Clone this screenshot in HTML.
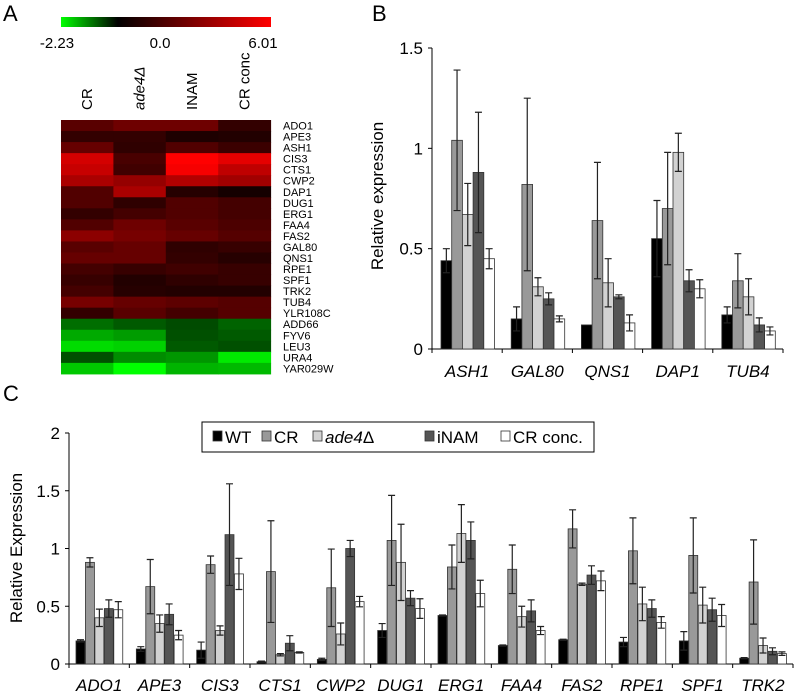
<!DOCTYPE html>
<html><head><meta charset="utf-8">
<style>
html,body{margin:0;padding:0;background:#fff;}
svg{display:block;font-family:"Liberation Sans",Arial,sans-serif;}
svg text{font-family:"Liberation Sans",Arial,sans-serif;}
</style></head>
<body>
<svg id="fig" width="794" height="694" viewBox="0 0 794 694" xmlns="http://www.w3.org/2000/svg" font-family="Liberation Sans, Arial, sans-serif">
<defs>
<linearGradient id="cbar" x1="0" x2="1" y1="0" y2="0">
<stop offset="0" stop-color="#00ff00"/>
<stop offset="0.2707" stop-color="#000000"/>
<stop offset="1" stop-color="#ff0000"/>
</linearGradient>
</defs>
<text x="3" y="21" font-size="22">A</text>
<rect x="61" y="17" width="210" height="10" fill="url(#cbar)"/>
<text x="57" y="48" font-size="15" text-anchor="middle">-2.23</text>
<text x="160" y="48" font-size="15" text-anchor="middle">0.0</text>
<text x="263" y="48" font-size="15" text-anchor="middle">6.01</text>
<g id="heat"></g>
<text x="372" y="21" font-size="22">B</text>
<g id="chartB"></g>
<text x="3" y="401" font-size="22">C</text>
<g id="chartC"></g>
</svg>
<script>
const NS="http://www.w3.org/2000/svg";
function mk(parent,tag,attrs,txt){const e=document.createElementNS(NS,tag);for(const k in attrs)e.setAttribute(k,attrs[k]);if(txt!==undefined)e.textContent=txt;parent.appendChild(e);return e;}

// ---------- Panel A data ----------
const heatCols=["CR","ade4Δ","INAM","CR conc"];
const heatRows=["ADO1","APE3","ASH1","CIS3","CTS1","CWP2","DAP1","DUG1","ERG1","FAA4","FAS2","GAL80","QNS1","RPE1","SPF1","TRK2","TUB4","YLR108C","ADD66","FYV6","LEU3","URA4","YAR029W"];
const heatVals=[
[2.1,2.6,2.6,1.2],[1.2,1.2,0.7,0.8],[2.4,1.1,1.9,1.4],[5.0,1.7,6.0,5.4],[4.7,1.5,5.8,4.5],
[4.0,3.5,4.2,3.8],[1.9,4.0,0.9,0.5],[1.9,1.1,1.9,1.6],[1.2,1.6,1.9,1.6],[1.9,2.6,2.1,1.8],
[3.3,2.8,2.4,2.0],[2.1,2.4,1.1,1.3],[2.4,2.4,1.2,0.9],[1.6,1.3,1.5,1.3],[1.3,0.8,1.1,1.3],
[1.6,0.9,0.8,0.8],[2.8,2.4,2.2,2.0],[1.2,2.1,1.6,2.0],[-0.96,-0.79,-0.66,-0.87],
[-1.49,-1.36,-0.70,-0.79],[-1.92,-1.84,-0.79,-0.70],[-0.70,-1.22,-1.31,-2.05],[-1.75,-2.23,-1.57,-1.62]];
const heatMin=-2.23, heatMax=6.01;

// ---------- Panel B data ----------
const seriesNames=["WT","CR","ade4","iNAM","CR conc."];
const seriesFill=["#000000","#999999","#d2d2d2","#555555","#ffffff"];
const bCats=["ASH1","GAL80","QNS1","DAP1","TUB4"];
const bVals=[[0.44,1.04,0.67,0.88,0.45],[0.15,0.82,0.31,0.25,0.15],[0.12,0.64,0.33,0.26,0.13],[0.55,0.70,0.98,0.34,0.30],[0.17,0.34,0.26,0.12,0.09]];
const bErr=[[0.06,0.35,0.155,0.30,0.05],[0.06,0.43,0.045,0.03,0.015],[0,0.29,0.12,0.01,0.04],[0.19,0.28,0.095,0.055,0.045],[0.04,0.135,0.09,0.035,0.02]];
const bTicks=[0,0.5,1,1.5];
const bTickLabels=["0","0.5","1","1.5"];

// ---------- Panel C data ----------
const cCats=["ADO1","APE3","CIS3","CTS1","CWP2","DUG1","ERG1","FAA4","FAS2","RPE1","SPF1","TRK2"];
const cVals=[[0.20,0.88,0.40,0.48,0.47],[0.13,0.67,0.35,0.43,0.25],[0.12,0.86,0.29,1.12,0.78],[0.02,0.80,0.08,0.18,0.10],
[0.04,0.66,0.26,1.00,0.54],[0.29,1.07,0.88,0.57,0.48],[0.42,0.84,1.13,1.07,0.61],[0.16,0.82,0.41,0.46,0.29],
[0.21,1.17,0.69,0.77,0.72],[0.19,0.98,0.52,0.48,0.36],[0.20,0.94,0.51,0.47,0.42],[0.05,0.71,0.16,0.11,0.09]];
const cErr=[[0.01,0.04,0.075,0.075,0.07],[0.02,0.235,0.075,0.09,0.04],[0.07,0.075,0.04,0.44,0.135],[0.005,0.44,0.01,0.065,0.005],
[0.01,0.335,0.095,0.07,0.045],[0.06,0.39,0.33,0.065,0.085],[0.005,0.19,0.25,0.16,0.115],[0.005,0.21,0.09,0.095,0.035],
[0.005,0.165,0.01,0.08,0.085],[0.04,0.285,0.145,0.075,0.05],[0.08,0.325,0.155,0.10,0.095],[0.005,0.365,0.065,0.03,0.015]];
const cTicks=[0,0.5,1,1.5,2];
const cTickLabels=["0","0.5","1","1.5","2"];

// ---------- Draw A ----------
(function(){
  const g=document.getElementById('heat');
  const x0=61,y0=120,cw=52.4,rh=11.04;
  function col(v){
    if(v>=0){const r=Math.round(Math.min(1,v/heatMax)*255);return `rgb(${r},0,0)`;}
    const gg=Math.round(Math.min(1,v/heatMin)*255);return `rgb(0,${gg},0)`;
  }
  heatRows.forEach((rn,i)=>{
    heatCols.forEach((cn,j)=>{
      const r=mk(g,'rect',{x:x0+j*cw,y:y0+i*rh,width:cw+0.5,height:rh+0.5,fill:col(heatVals[i][j])});
      
      
    });
    const t=mk(g,'text',{x:283,y:y0+i*rh+rh/2+4,'font-size':11},rn);
    
    
  });
  heatCols.forEach((cn,j)=>{
    const cx=x0+j*cw+cw/2+5;
    const t=mk(g,'text',{x:0,y:0,'font-size':15,transform:`translate(${cx},110) rotate(-90)`,'font-style':j==1?'italic':'normal'},cn);
    
    
  });
})();

// ---------- generic bar chart ----------
function barChart(gid,cats,vals,errs,ticks,tickLabels,o){
  const g=document.getElementById(gid);
  const yScale=v=>o.y0-(v/o.ymax)*(o.y0-o.ytop);
  const gw=(o.xEnd-o.x0)/cats.length;
  let a=mk(g,'line',{x1:o.x0,y1:o.y0,x2:o.x0,y2:o.ytop,stroke:'#000','stroke-width':1});
  
  a=mk(g,'line',{x1:o.x0-4,y1:o.y0,x2:o.xEnd,y2:o.y0,stroke:'#000','stroke-width':1});
  
  ticks.forEach((t,i)=>{
    const y=yScale(t);
    const l=mk(g,'line',{x1:o.x0-4,y1:y,x2:o.x0,y2:y,stroke:'#000'});
    
    const tx=mk(g,'text',{x:o.x0-9,y:y+6,'font-size':17,'text-anchor':'end'},tickLabels[i]);
    
  });
  for(let i=0;i<=cats.length;i++){
    const x=o.x0+i*gw;
    const l=mk(g,'line',{x1:x,y1:o.y0,x2:x,y2:o.y0+4,stroke:'#000'});
    
  }
  cats.forEach((c,i)=>{
    const gx=o.x0+i*gw;
    vals[i].forEach((v,j)=>{
      const x=gx+o.off+j*o.bw;
      const y=yScale(v);
      const r=mk(g,'rect',{x:x,y:y,width:o.bw-o.gap,height:o.y0-y,fill:seriesFill[j],stroke:'#333','stroke-width':0.8});
      
      
      const e=errs[i][j];
      if(e>0){
        const cx=x+(o.bw-o.gap)/2, yt=yScale(v+e), yb=yScale(Math.max(0,v-e));
        const p=mk(g,'path',{d:`M${cx},${yb}V${yt}M${cx-3.5},${yt}H${cx+3.5}M${cx-3.5},${yb}H${cx+3.5}`,stroke:'#222','stroke-width':1.2,fill:'none'});
        
        
      }
    });
    const t=mk(g,'text',{x:gx+gw/2,y:o.labY,'font-size':17,'font-style':'italic','text-anchor':'middle'},c);
    
    
  });
  const tt=mk(g,'text',{x:0,y:0,'font-size':17,'text-anchor':'middle',transform:`translate(${o.titleX},${o.titleY}) rotate(-90)`},o.title);
  
}

barChart('chartB',bCats,bVals,bErr,bTicks,bTickLabels,{x0:432,xEnd:783,y0:349,ytop:48,ymax:1.5,off:9,bw:10.7,gap:0,labY:377,title:'Relative expression',titleX:383,titleY:196});
barChart('chartC',cCats,cVals,cErr,cTicks,cTickLabels,{x0:69,xEnd:793,y0:664,ytop:433,ymax:2,off:7,bw:9.45,gap:0.5,labY:691,title:'Relative Expression',titleX:22,titleY:548});

// legend
(function(){
  const g=document.getElementById('chartC');
  const lg=mk(g,'g',{});
  
  mk(lg,'rect',{x:202,y:422,width:392,height:30,fill:'#fff',stroke:'#000','stroke-width':1});
  const sx=[213,262,313,425,501];
  seriesNames.forEach((n,j)=>{
    const r=mk(lg,'rect',{x:sx[j],y:431,width:9,height:10,fill:seriesFill[j],stroke:'#333','stroke-width':0.8});
    
    const t=mk(lg,'text',{x:sx[j]+12,y:443,'font-size':17,'font-style':j==2?'italic':'normal'},n);
    
    if(j==2){
      const ts=mk(t,'tspan',{'font-style':'normal'},'Δ');
      
      
    }
  });
})();
</script>
</body></html>
